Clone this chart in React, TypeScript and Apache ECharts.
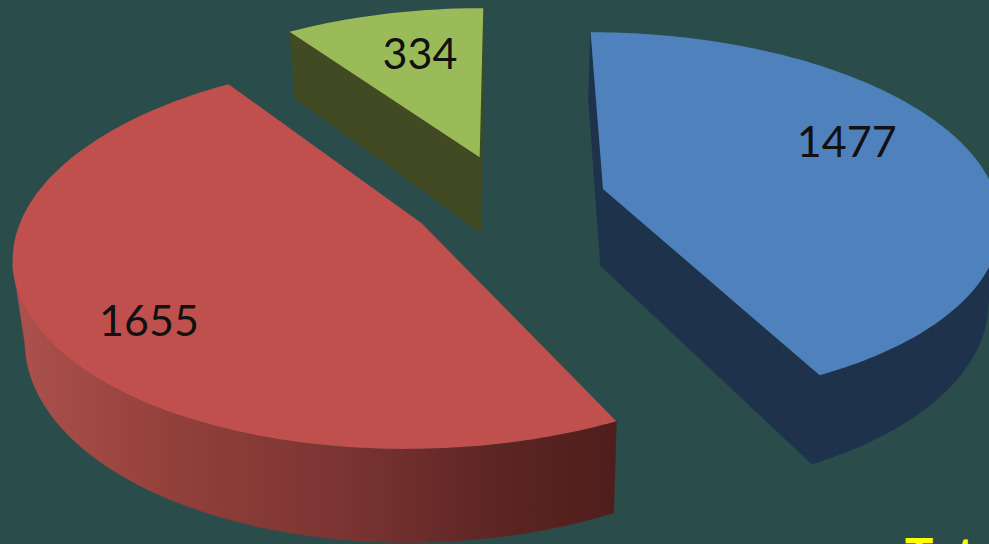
import React, { useEffect, useRef } from "react";
import * as echarts from "echarts";

// Slice values, clockwise from twelve o'clock
const sliceNames = ["A", "B", "C"];
const sliceValues = [1477, 1655, 334];
const topColors = ["#4f81bd", "#c0504d", "#9bbb59"];
const wallColors = ["#1e324c", "#6a2b29", "#414a22"];
const captionText = "Total";

// Perspective camera for the tilted pie, radius = 1 world unit
const XC = 508;
const YH = -1011.3;
const FOCAL = 2600;
const HEIGHT = 7991;
const DIST = 6.6;
const EXPLODE = 0.25;
const BOTTOM_X = 0.975;
const BOTTOM_Y = 1.064;

// Data label placement in each slice: distance from its apex and bearing in degrees
const labelRadius = [0.719, 0.772, 0.695];
const labelBearing = [66.8, 232.7, 345];

const total = sliceValues.reduce((a, b) => a + b, 0);
const dir = (a: number): [number, number] => [Math.sin(a), Math.cos(a)];

function project(X: number, Z: number, bottom = false): number[] {
  const w = DIST + Z;
  const sx = bottom ? BOTTOM_X : 1;
  const sy = bottom ? BOTTOM_Y : 1;
  return [XC + (FOCAL * sx * X) / w, YH + (HEIGHT * sy) / w];
}

const faces = (px: number, pz: number, nx: number, nz: number) =>
  (0 - px) * nx + (-DIST - pz) * nz > 0;

function renderSlice(params: any, api: any) {
  const i = params.dataIndex;
  const value = api.value(0);
  const before = sliceValues.slice(0, i).reduce((a, b) => a + b, 0);
  const a0 = (before / total) * Math.PI * 2;
  const a1 = ((before + value) / total) * Math.PI * 2;
  const [bx, bz] = dir((a0 + a1) / 2);
  const ax = bx * EXPLODE;
  const az = bz * EXPLODE;

  const rim: number[][] = [];
  const steps = Math.max(8, Math.round(((a1 - a0) * 180) / Math.PI));
  for (let s = 0; s <= steps; s++) {
    const a = a0 + ((a1 - a0) * s) / steps;
    const [dx, dz] = dir(a);
    rim.push([ax + dx, az + dz, dx, dz]);
  }

  const children: any[] = [];
  const wallFill =
    i === 1
      ? new echarts.graphic.LinearGradient(
          20, 0, 615, 0,
          [
            { offset: 0, color: "#ac514d" },
            { offset: 0.25, color: "#93403b" },
            { offset: 0.55, color: "#7a3432" },
            { offset: 0.8, color: "#5d2523" },
            { offset: 1, color: "#4f1e1c" },
          ],
          true
        )
      : wallColors[i];

  // Radial walls, only those turned towards the camera
  const first = rim[0];
  const last = rim[rim.length - 1];
  const radial = [
    { p: first, n: [-Math.cos(a0), Math.sin(a0)] },
    { p: last, n: [Math.cos(a1), -Math.sin(a1)] },
  ];
  radial.forEach(({ p, n }) => {
    if (faces(ax, az, n[0], n[1])) {
      children.push({
        type: "polygon",
        shape: {
          points: [
            project(ax, az),
            project(p[0], p[1]),
            project(p[0], p[1], true),
            project(ax, az, true),
          ],
        },
        // A hairline of the same colour closes the seam with the rim wall
        style: { fill: wallColors[i], stroke: wallColors[i], lineWidth: 0.6 },
      });
    }
  });

  // Outer rim wall, the stretch that the camera can see
  const visible = rim.filter((p) => faces(p[0], p[1], p[2], p[3]));
  if (visible.length > 1) {
    children.push({
      type: "polygon",
      shape: {
        points: [
          ...visible.map((p) => project(p[0], p[1])),
          ...visible.slice().reverse().map((p) => project(p[0], p[1], true)),
        ],
      },
      style: { fill: wallFill, stroke: wallFill, lineWidth: 0.6 },
    });
  }

  // Top face
  children.push({
    type: "polygon",
    shape: { points: [project(ax, az), ...rim.map((p) => project(p[0], p[1]))] },
    style: { fill: topColors[i] },
  });

  // Value label
  const [lx, lz] = dir((labelBearing[i] * Math.PI) / 180);
  const [tx, ty] = project(ax + lx * labelRadius[i], az + lz * labelRadius[i]);
  children.push({
    type: "text",
    style: {
      x: tx,
      y: ty,
      text: String(value),
      fill: "#111111",
      font: '400 43px Lato, "Open Sans", sans-serif',
      align: "center",
      verticalAlign: "middle",
    },
  });

  return { type: "group", children };
}

export default function App() {
  const ref = useRef<HTMLDivElement>(null);

  useEffect(() => {
    document.body.style.margin = "0";
    document.body.style.overflow = "hidden";
    const chart = echarts.init(ref.current!, undefined, { renderer: "svg" });
    chart.setOption({
      animation: false,
      backgroundColor: "#2a4d4b",
      series: [
        {
          type: "custom",
          coordinateSystem: "none",
          silent: true,
          renderItem: renderSlice,
          data: sliceValues.map((v, i) => ({ name: sliceNames[i], value: [v] })),
        },
      ],
      graphic: [
        {
          type: "text",
          x: 905,
          y: 577,
          style: {
            text: captionText,
            fill: "#ffff00",
            font: 'bold 46px "Liberation Sans", Arial, sans-serif',
            textVerticalAlign: "bottom",
            verticalAlign: "alphabetic",
          },
        },
      ],
    });
    return () => chart.dispose();
  }, []);

  return <div ref={ref} style={{ width: 989, height: 544, overflow: "hidden" }} />;
}
